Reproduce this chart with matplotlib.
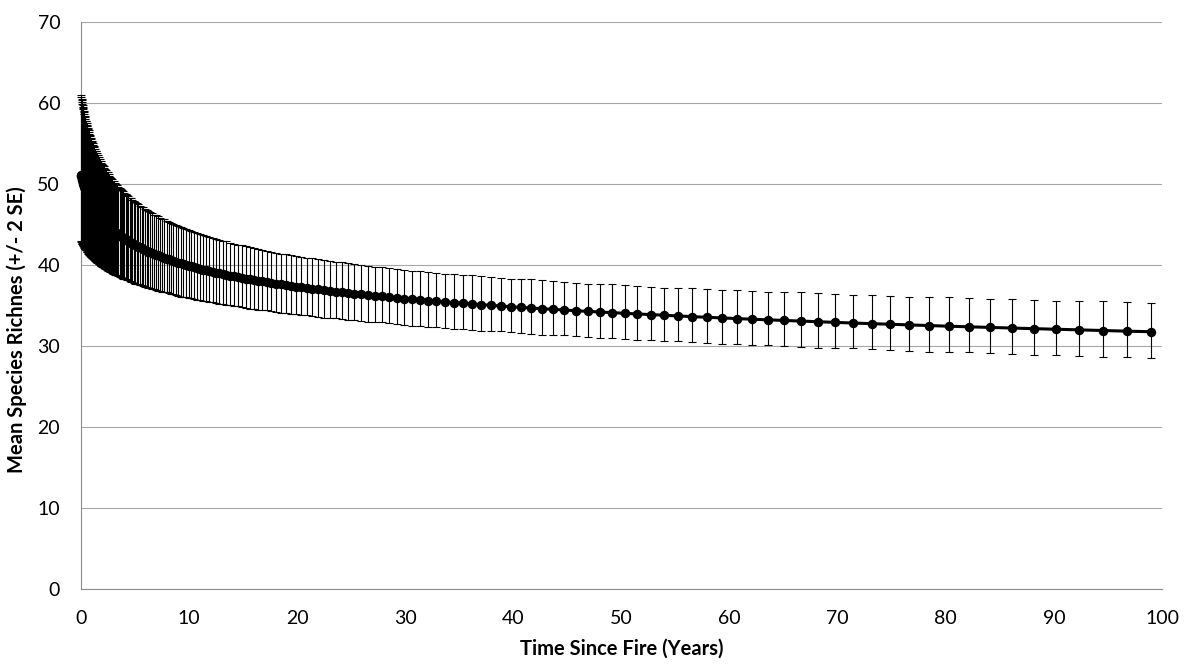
import numpy as np
import matplotlib.pyplot as plt

plt.rcParams['font.family'] = ['Lato', 'DejaVu Sans']

# time since fire (years), one point per model step
years = [
    0.000, 0.023, 0.047, 0.072, 0.096, 0.122, 0.148, 0.175, 0.202, 0.230,
    0.259, 0.288, 0.318, 0.349, 0.380, 0.413, 0.445, 0.479, 0.514, 0.549,
    0.585, 0.622, 0.660, 0.698, 0.738, 0.778, 0.820, 0.862, 0.905, 0.950,
    0.995, 1.042, 1.089, 1.138, 1.188, 1.239, 1.291, 1.344, 1.399, 1.455,
    1.512, 1.570, 1.630, 1.692, 1.754, 1.818, 1.884, 1.951, 2.020, 2.090,
    2.162, 2.236, 2.311, 2.388, 2.467, 2.548, 2.631, 2.715, 2.802, 2.890,
    2.981, 3.074, 3.169, 3.266, 3.365, 3.467, 3.571, 3.677, 3.786, 3.898,
    4.012, 4.129, 4.248, 4.370, 4.495, 4.623, 4.754, 4.888, 5.026, 5.166,
    5.310, 5.457, 5.607, 5.761, 5.918, 6.079, 6.244, 6.413, 6.586, 6.762,
    6.943, 7.128, 7.318, 7.511, 7.710, 7.912, 8.120, 8.333, 8.550, 8.772,
    9.00, 9.23, 9.47, 9.72, 9.96, 10.22, 10.48, 10.75, 11.02, 11.30,
    11.59, 11.88, 12.18, 12.49, 12.80, 13.13, 13.45, 13.79, 14.14, 14.49,
    14.85, 15.22, 15.60, 15.98, 16.38, 16.78, 17.20, 17.62, 18.05, 18.50,
    18.95, 19.42, 19.89, 20.38, 20.88, 21.39, 21.91, 22.44, 22.99, 23.55,
    24.12, 24.70, 25.30, 25.92, 26.54, 27.18, 27.84, 28.51, 29.20, 29.90,
    30.62, 31.36, 32.11, 32.88, 33.67, 34.48, 35.31, 36.15, 37.02, 37.90,
    38.81, 39.74, 40.69, 41.66, 42.65, 43.67, 44.71, 45.77, 46.86, 47.98,
    49.12, 50.29, 51.48, 52.70, 53.95, 55.23, 56.54, 57.88, 59.26, 60.66,
    62.10, 63.57, 65.07, 66.61, 68.18, 69.79, 71.44, 73.13, 74.86, 76.62,
    78.43, 80.28, 82.18, 84.11, 86.10, 88.13, 90.20, 92.33, 94.50, 96.72,
    99.00,
]

# mean species richness
richness = [
    51.10, 50.98, 50.86, 50.74, 50.62, 50.50, 50.38, 50.26, 50.14, 50.02,
    49.90, 49.78, 49.66, 49.55, 49.43, 49.31, 49.20, 49.08, 48.96, 48.84,
    48.73, 48.61, 48.50, 48.38, 48.27, 48.15, 48.04, 47.93, 47.81, 47.70,
    47.58, 47.47, 47.36, 47.25, 47.13, 47.02, 46.91, 46.80, 46.69, 46.57,
    46.46, 46.35, 46.24, 46.14, 46.03, 45.92, 45.81, 45.70, 45.59, 45.48,
    45.37, 45.26, 45.16, 45.05, 44.94, 44.84, 44.73, 44.62, 44.52, 44.41,
    44.31, 44.20, 44.10, 43.99, 43.89, 43.78, 43.68, 43.58, 43.47, 43.37,
    43.26, 43.16, 43.06, 42.96, 42.86, 42.75, 42.65, 42.55, 42.45, 42.35,
    42.25, 42.15, 42.05, 41.95, 41.85, 41.75, 41.65, 41.55, 41.45, 41.35,
    41.25, 41.16, 41.06, 40.96, 40.87, 40.77, 40.67, 40.57, 40.48, 40.38,
    40.28, 40.19, 40.09, 40.00, 39.90, 39.81, 39.72, 39.62, 39.53, 39.43,
    39.34, 39.24, 39.15, 39.06, 38.97, 38.87, 38.78, 38.69, 38.60, 38.50,
    38.41, 38.32, 38.23, 38.14, 38.05, 37.96, 37.87, 37.78, 37.69, 37.60,
    37.51, 37.42, 37.33, 37.24, 37.16, 37.07, 36.98, 36.89, 36.80, 36.72,
    36.63, 36.54, 36.46, 36.37, 36.28, 36.20, 36.11, 36.03, 35.94, 35.85,
    35.77, 35.68, 35.60, 35.52, 35.43, 35.35, 35.26, 35.18, 35.09, 35.01,
    34.93, 34.84, 34.76, 34.68, 34.60, 34.52, 34.43, 34.35, 34.27, 34.19,
    34.11, 34.03, 33.95, 33.87, 33.79, 33.70, 33.62, 33.54, 33.46, 33.38,
    33.30, 33.23, 33.15, 33.07, 32.99, 32.91, 32.83, 32.75, 32.68, 32.60,
    32.52, 32.44, 32.37, 32.29, 32.21, 32.14, 32.06, 31.99, 31.91, 31.83,
    31.76,
]

# +2 SE bound
upper = [
    60.9, 60.7, 60.5, 60.3, 60.1, 59.9, 59.7, 59.5, 59.3, 59.2,
    59.0, 58.8, 58.6, 58.4, 58.2, 58.0, 57.8, 57.7, 57.5, 57.3,
    57.1, 56.9, 56.8, 56.6, 56.4, 56.2, 56.0, 55.9, 55.7, 55.5,
    55.3, 55.2, 55.0, 54.8, 54.6, 54.5, 54.3, 54.1, 54.0, 53.8,
    53.6, 53.5, 53.3, 53.1, 53.0, 52.8, 52.6, 52.5, 52.3, 52.2,
    52.0, 51.8, 51.7, 51.5, 51.4, 51.2, 51.0, 50.9, 50.7, 50.6,
    50.4, 50.3, 50.1, 50.0, 49.8, 49.6, 49.5, 49.4, 49.2, 49.1,
    48.9, 48.8, 48.6, 48.5, 48.3, 48.2, 48.0, 47.9, 47.8, 47.6,
    47.5, 47.3, 47.2, 47.1, 46.9, 46.8, 46.7, 46.5, 46.4, 46.2,
    46.1, 46.0, 45.8, 45.7, 45.6, 45.4, 45.3, 45.2, 45.1, 44.9,
    44.8, 44.7, 44.6, 44.4, 44.3, 44.2, 44.1, 43.9, 43.8, 43.7,
    43.6, 43.5, 43.3, 43.2, 43.1, 43.0, 42.9, 42.7, 42.6, 42.5,
    42.4, 42.3, 42.2, 42.1, 42.0, 41.8, 41.7, 41.6, 41.5, 41.4,
    41.3, 41.2, 41.1, 41.0, 40.9, 40.8, 40.7, 40.6, 40.5, 40.4,
    40.3, 40.2, 40.1, 40.0, 39.9, 39.8, 39.7, 39.6, 39.5, 39.4,
    39.3, 39.2, 39.1, 39.0, 38.9, 38.9, 38.8, 38.7, 38.6, 38.5,
    38.4, 38.3, 38.2, 38.2, 38.1, 38.0, 37.9, 37.8, 37.7, 37.7,
    37.6, 37.5, 37.4, 37.3, 37.2, 37.2, 37.1, 37.0, 36.9, 36.9,
    36.8, 36.7, 36.6, 36.6, 36.5, 36.4, 36.3, 36.3, 36.2, 36.1,
    36.0, 36.0, 35.9, 35.8, 35.8, 35.7, 35.6, 35.6, 35.5, 35.4,
    35.3,
]

# -2 SE bound
lower = [
    42.9, 42.8, 42.8, 42.7, 42.6, 42.6, 42.5, 42.4, 42.4, 42.3,
    42.2, 42.2, 42.1, 42.0, 42.0, 41.9, 41.8, 41.8, 41.7, 41.6,
    41.6, 41.5, 41.4, 41.4, 41.3, 41.2, 41.2, 41.1, 41.0, 41.0,
    40.9, 40.8, 40.8, 40.7, 40.7, 40.6, 40.5, 40.5, 40.4, 40.3,
    40.2, 40.2, 40.1, 40.1, 40.0, 39.9, 39.9, 39.8, 39.7, 39.7,
    39.6, 39.5, 39.5, 39.4, 39.3, 39.3, 39.2, 39.1, 39.1, 39.0,
    38.9, 38.9, 38.8, 38.7, 38.7, 38.6, 38.5, 38.5, 38.4, 38.3,
    38.3, 38.2, 38.1, 38.1, 38.0, 37.9, 37.9, 37.8, 37.7, 37.7,
    37.6, 37.5, 37.5, 37.4, 37.3, 37.3, 37.2, 37.1, 37.0, 37.0,
    36.9, 36.8, 36.8, 36.7, 36.6, 36.6, 36.5, 36.4, 36.4, 36.3,
    36.2, 36.1, 36.1, 36.0, 35.9, 35.9, 35.8, 35.7, 35.7, 35.6,
    35.5, 35.4, 35.4, 35.3, 35.2, 35.2, 35.1, 35.0, 34.9, 34.9,
    34.8, 34.7, 34.6, 34.6, 34.5, 34.4, 34.4, 34.3, 34.2, 34.1,
    34.1, 34.0, 33.9, 33.8, 33.8, 33.7, 33.6, 33.5, 33.5, 33.4,
    33.3, 33.2, 33.2, 33.1, 33.0, 32.9, 32.9, 32.8, 32.7, 32.6,
    32.5, 32.5, 32.4, 32.3, 32.2, 32.1, 32.1, 32.0, 31.9, 31.8,
    31.8, 31.7, 31.6, 31.5, 31.4, 31.4, 31.3, 31.2, 31.1, 31.0,
    31.0, 30.9, 30.8, 30.7, 30.6, 30.6, 30.5, 30.4, 30.3, 30.2,
    30.1, 30.1, 30.0, 29.9, 29.8, 29.7, 29.7, 29.6, 29.5, 29.4,
    29.3, 29.3, 29.2, 29.1, 29.0, 28.9, 28.9, 28.8, 28.7, 28.6,
    28.5,
]

x = np.array(years)
y = np.array(richness)
err = [y - np.array(lower), np.array(upper) - y]

fig = plt.figure(figsize=(11.95, 6.64), dpi=100)
ax = fig.add_axes([81 / 1195, 1 - 589.3 / 664, 1081 / 1195, 567.7 / 664])

ax.errorbar(x, y, yerr=err, fmt='-o', color='black', ecolor='black',
            lw=2.2, ms=5.8, elinewidth=0.8, capsize=3.2, capthick=0.8,
            clip_on=False, zorder=3)

ax.set_xlim(0, 100)
ax.set_ylim(0, 70)
ax.set_xticks(np.arange(0, 101, 10))
ax.set_yticks(np.arange(0, 71, 10))
ax.tick_params(length=0, labelsize=14, colors='black')
ax.tick_params(axis='x', pad=15)
ax.tick_params(axis='y', pad=15)

ax.grid(axis='y', color='#a6a6a6', lw=0.8)
ax.set_axisbelow(True)
for side in ['top', 'right']:
    ax.spines[side].set_visible(False)
for side in ['left', 'bottom']:
    ax.spines[side].set_color('#8c8c8c')
    ax.spines[side].set_linewidth(0.8)

# axis titles placed by hand, Excel style
ax.text(0.5, -0.105, 'Time Since Fire (Years)', transform=ax.transAxes,
        ha='center', va='center', fontsize=14.5, fontweight='bold')
ax.text(-0.0595, 0.457, 'Mean Species Richnes (+/- 2 SE)', transform=ax.transAxes,
        ha='center', va='center', rotation=90, fontsize=14.5, fontweight='bold')

plt.savefig('out.png', dpi=100)
